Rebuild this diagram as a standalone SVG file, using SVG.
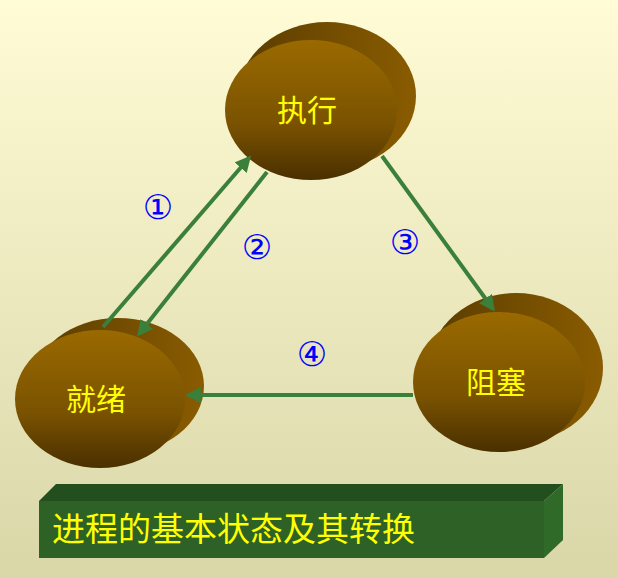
<svg xmlns="http://www.w3.org/2000/svg" width="618" height="577" viewBox="0 0 618 577">
<defs>
<linearGradient id="bg" x1="0" y1="0" x2="0" y2="1"><stop offset="0" stop-color="#fffcd6"/><stop offset="1" stop-color="#d9d6a8"/></linearGradient>
<linearGradient id="front" x1="0" y1="0" x2="0" y2="1"><stop offset="0" stop-color="#9a6a00"/><stop offset="0.6" stop-color="#7a5200"/><stop offset="1" stop-color="#4a3000"/></linearGradient>
<linearGradient id="back" x1="0" y1="0" x2="1" y2="0"><stop offset="0" stop-color="#5a3c00"/><stop offset="1" stop-color="#8a5c00"/></linearGradient>
<marker id="ah" viewBox="0 0 10 10" refX="8" refY="5" markerWidth="4" markerHeight="4" orient="auto"><path d="M0,0 L10,5 L0,10 z" fill="#3a7f3a"/></marker>
<style>
.b{fill:url(#back)}.f{fill:url(#front)}
.t{font-family:"Noto Sans CJK SC",sans-serif;font-size:30px;fill:#ffff00;text-anchor:middle}
.n{font-family:"DejaVu Sans",sans-serif;font-size:34px;fill:#0000ff;text-anchor:middle}
.c{stroke:#3a7f3a;stroke-width:4;fill:none;marker-end:url(#ah)}
</style>
</defs>
<rect width="618" height="577" fill="url(#bg)"/>
<g id="exec"><ellipse class="b" cx="327" cy="96" rx="89" ry="74"/><ellipse class="f" cx="311" cy="110" rx="86" ry="70"/><text class="t" x="307" y="121">执行</text></g>
<g id="ready"><ellipse class="b" cx="118" cy="386" rx="86" ry="68"/><ellipse class="f" cx="100" cy="399" rx="85" ry="69"/><text class="t" x="96" y="410">就绪</text></g>
<g id="block"><ellipse class="b" cx="516" cy="368" rx="87" ry="75"/><ellipse class="f" cx="499" cy="382" rx="86" ry="70"/><text class="t" x="496" y="393">阻塞</text></g>
<g id="connectors">
<line class="c" x1="103" y1="327" x2="249" y2="158"/>
<line class="c" x1="267" y1="172" x2="139" y2="334"/>
<line class="c" x1="382" y1="156" x2="493" y2="309"/>
<line class="c" x1="413" y1="395" x2="188" y2="395"/>
<text class="n" x="158" y="219">①</text>
<text class="n" x="257" y="259">②</text>
<text class="n" x="405" y="254">③</text>
<text class="n" x="312" y="366">④</text>
</g>
<g id="title">
<polygon points="39,501 56,484 563,484 544,501" fill="#234f1e"/>
<polygon points="544,501 563,484 563,540 544,558" fill="#2f6a28"/>
<rect x="39" y="501" width="505" height="57" fill="#2d6126"/>
<text x="52" y="541" font-family="'Noto Sans CJK SC',sans-serif" font-size="33" fill="#ffff00">进程的基本状态及其转换</text>
</g>
</svg>
